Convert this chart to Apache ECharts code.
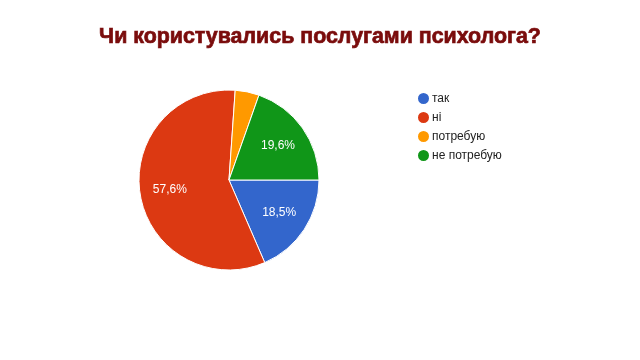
<!DOCTYPE html>
<html><head><meta charset="utf-8">
<script src="https://cdn.jsdelivr.net/npm/echarts@6/dist/echarts.min.js"></script>
<style>html,body{margin:0;padding:0;background:#fff}#c{width:640px;height:360px}</style>
</head><body><div id="c"></div>
<script>
const title = 'Чи користувались послугами психолога?';
const categories = ['так', 'ні', 'потребую', 'не потребую'];
const values = [18.5, 57.6, 4.3, 19.6];
const colors = ['#3366cc', '#dc3912', '#ff9900', '#109618'];

const data = categories.map((n, i) => ({ name: n, value: values[i] }));
const fmt = p => p.value < 5 ? '' : p.value.toFixed(1).replace('.', ',') + '%';

const chart = echarts.init(document.getElementById('c'));
chart.setOption({
  backgroundColor: '#fff',
  animation: false,
  color: colors,
  title: {
    text: title, left: 'center', top: 22,
    textStyle: { fontFamily: 'Liberation Sans, Arial', fontWeight: 'bold', fontSize: 21.4, color: '#7a0c0c',
      textBorderColor: '#7a0c0c', textBorderWidth: 0.7 }
  },
  legend: {
    orient: 'vertical', left: 411, top: 86, icon: 'circle',
    itemWidth: 13, itemHeight: 13, itemGap: 4,
    data: categories,
    textStyle: { fontFamily: 'Liberation Sans, Arial', fontSize: 12, color: '#222', padding: [0, 0, 0, -3] }
  },
  series: [{
    type: 'pie', center: [229, 180], radius: [0, 90], startAngle: 0, clockwise: true,
    data: data, label: { show: false }, labelLine: { show: false },
    itemStyle: { borderColor: '#fff', borderWidth: 1 }, silent: true
  }, {
    type: 'pie', center: [229, 180], radius: [0, 114], startAngle: 0, clockwise: true,
    data: data, legendHoverLink: false, silent: true,
    itemStyle: { color: 'rgba(0,0,0,0)' },
    label: { show: true, position: 'inside', formatter: fmt, color: '#fff', fontSize: 12, fontFamily: 'Liberation Sans, Arial' },
    labelLine: { show: false }
  }]
});
</script></body></html>
